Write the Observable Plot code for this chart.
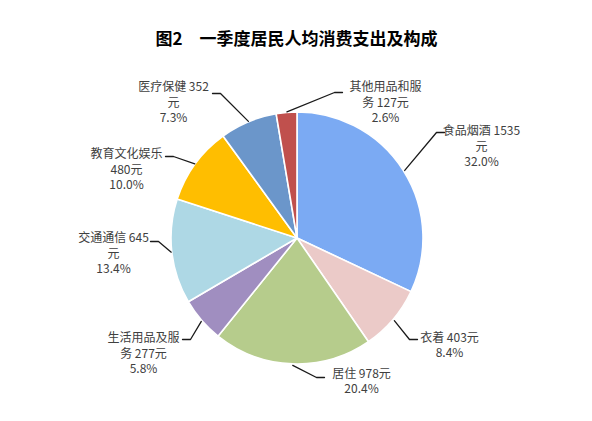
<!DOCTYPE html>
<html>
<head>
<meta charset="utf-8">
<script src="https://cdn.jsdelivr.net/npm/d3@7"></script>
<script src="https://cdn.jsdelivr.net/npm/@observablehq/plot@0.6"></script>
<style>
  body { margin: 0; background: #ffffff; }
  #chart svg { display: block; }
</style>
</head>
<body>
<div id="chart"></div>
<script>
// ---- data ----
const title = "图2　一季度居民人均消费支出及构成";
const categories = ["食品烟酒", "衣着", "居住", "生活用品及服务", "交通通信", "教育文化娱乐", "医疗保健", "其他用品和服务"];
const values = [1535, 403, 978, 277, 645, 480, 352, 127];
const shares = ["32.0%", "8.4%", "20.4%", "5.8%", "13.4%", "10.0%", "7.3%", "2.6%"];
const unit = "元";

// ---- style / layout (not data) ----
const colors = ["#7BAAF3", "#EBCAC8", "#B6CC8C", "#A08EC0", "#AED8E5", "#FFBE00", "#6B96CA", "#C0504D"];
const W = 592, H = 421;
const CX = 297, CY = 238;   // pie centre in pixels
const R = 126;              // pie radius in pixels
// label wrap position (characters of first line) and label block centres / leader ends, relative to pie centre
const wrapAt = [9, null, null, 6, 8, 6, 8, 6];
const labelAt = [[184, -93], [152, 106], [64, 142], [-154, 114], [-184, 14], [-171, -70], [-124, -137], [88, -137]];
const leaderEnd = [[147, -106], [120, 101], [27, 139], [-115, 101], [-147, 3], [-132, -82], [-85, -145], [45, -146]];

// ---- derived ----
const arcs = d3.pie().sort(null).value(d => d)(values);
const midAngle = arcs.map(a => (a.startAngle + a.endAngle) / 2);

const labels = categories.map((c, i) => {
  const full = `${c} ${values[i]}${unit}`;
  let lines;
  if (wrapAt[i] == null) lines = [full];
  else lines = [full.slice(0, wrapAt[i]).trim(), full.slice(wrapAt[i]).trim()].filter(s => s.length);
  return {x: labelAt[i][0], y: labelAt[i][1], text: [...lines, shares[i]].join("\n")};
});

const leaders = [];
categories.forEach((c, i) => {
  const a = midAngle[i];
  const e = leaderEnd[i];
  const right = e[0] < labelAt[i][0];
  const elbow = [e[0] + (right ? -8 : 8), e[1]];
  const start = [(R + 1) * Math.sin(a), -(R + 1) * Math.cos(a)];
  [start, elbow, e].forEach(p => leaders.push({k: c, x: p[0], y: p[1]}));
});

function pieSlices(index, scales) {
  const r = Math.abs(scales.x(R) - scales.x(0));
  const arc = d3.arc().innerRadius(0).outerRadius(r);
  const g = d3.create("svg:g")
    .attr("transform", `translate(${scales.x(0)},${scales.y(0)})`);
  g.selectAll("path")
    .data(arcs)
    .join("path")
    .attr("d", arc)
    .attr("fill", (d, i) => colors[i])
    .attr("stroke", "#ffffff")
    .attr("stroke-width", 1.6)
    .attr("stroke-linejoin", "round");
  return g.node();
}

const chart = Plot.plot({
  width: W,
  height: H,
  margin: 0,
  x: {domain: [-CX, W - CX], range: [0, W], axis: null},
  y: {domain: [-CY, H - CY], range: [0, H], axis: null},
  style: {fontFamily: "'Noto Sans CJK SC', 'Microsoft YaHei', sans-serif", background: "#ffffff"},
  marks: [
    pieSlices,
    Plot.line(leaders, {x: "x", y: "y", z: "k", stroke: "#1a1a1a", strokeWidth: 1.3, curve: "linear"}),
    Plot.text(labels, {x: "x", y: "y", text: "text", fontSize: 12, lineHeight: 1.3, fill: "#404040", textAnchor: "middle", lineAnchor: "middle"}),
    Plot.text([title], {text: d => d, frameAnchor: "top", dy: 39, lineAnchor: "middle", fontSize: 17, fontWeight: "bold", fill: "#000000"})
  ]
});
document.getElementById("chart").appendChild(chart);
</script>
</body>
</html>
